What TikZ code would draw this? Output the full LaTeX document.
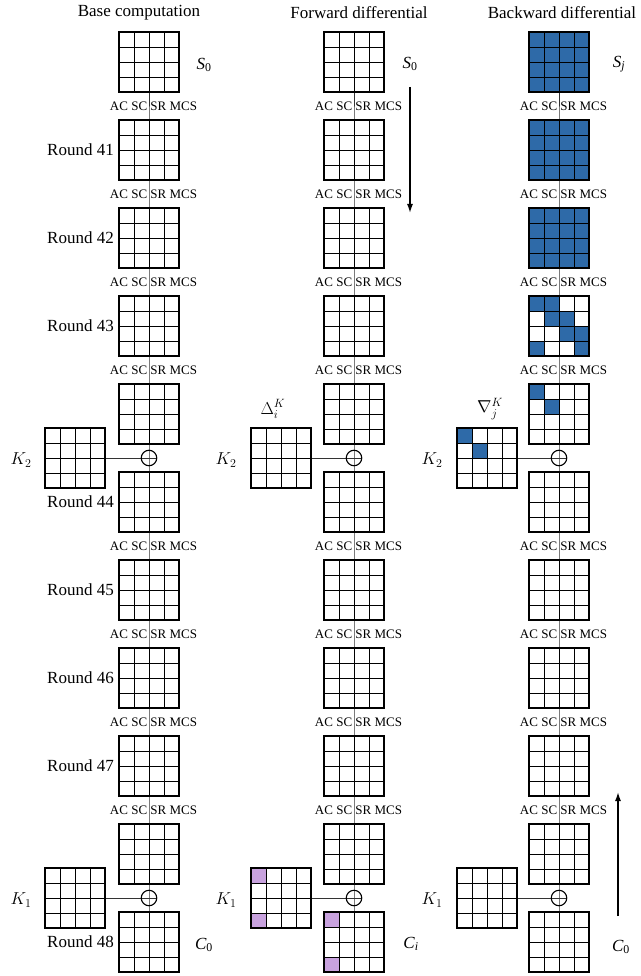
\documentclass[tikz,border=0pt]{standalone}
\usepackage{fontspec}
\setmainfont{Liberation Serif}
\usetikzlibrary{arrows.meta,backgrounds}
\definecolor{bblue}{RGB}{46,106,168}
\definecolor{lpurple}{RGB}{200,162,222}
\tikzset{
 gridbox/.style={minimum size=60pt, inner sep=0pt, outer sep=0pt, fill=white},
 gline/.style={line width=0.9pt, black},
 gborder/.style={line width=1.6pt, black},
 conn/.style={line width=0.9pt, black!80},
 xorop/.style={circle, draw, line width=1.1pt, minimum size=15.5pt, inner sep=0pt},
 oplabel/.style={font=\fontsize{13}{13}\selectfont, inner sep=0pt},
 rlabel/.style={font=\fontsize{17}{17}\selectfont, inner sep=0pt, anchor=east},
 ttl/.style={font=\fontsize{17}{17}\selectfont, inner sep=0pt},
 mlabel/.style={font=\fontsize{17}{17}\selectfont, inner sep=0pt},
 flow/.style={line width=1.5pt, -{Latex[length=9pt,width=6pt]}},
}
\newcommand\glines[1]{%
 \foreach \k in {1,2,3}{%
  \draw[gline] ([xshift=\k*15pt]#1.north west) -- ([xshift=\k*15pt]#1.south west);
  \draw[gline] ([yshift=-\k*15pt]#1.north west) -- ([yshift=-\k*15pt]#1.north east);
 }%
 \draw[gborder] (#1.north west) rectangle (#1.south east);%
}
\newcommand\gcells[3]{%
 \foreach \c/\r in {#3}{\fill[#2] ([xshift=\c*15pt,yshift=-\r*15pt]#1.north west) rectangle ++(15pt,-15pt);}%
}
\begin{document}
\begin{tikzpicture}[x=1pt,y=-1pt]
\useasboundingbox (0,0) rectangle (640,976);
\foreach \i/\cx/\kx in {1/149/75,2/354/281,3/559/487}{
  \foreach \n/\gy in {1/62,2/150,3/238,4/326,5/414,6/502,7/590,8/678,9/766,10/854,11/942}{
    \node[gridbox] (g\i-\n) at (\cx,\gy) {};
  }
  \node[gridbox] (k\i-2) at (\kx,458) {};
  \node[gridbox] (k\i-1) at (\kx,898) {};
  \node[xorop] (x\i-2) at (\cx,458) {};
  \node[xorop] (x\i-1) at (\cx,898) {};
  \foreach \ly in {106,194,282,370,546,634,722,810}{
    \node[oplabel] (op\i-\ly) at (\cx+4.5,\ly) {AC SC SR MCS};
  }
}
% fills
\foreach \n in {1,2,3}{\fill[bblue] (g3-\n.north west) rectangle (g3-\n.south east);}
\gcells{g3-4}{bblue}{0/0,1/0,1/1,2/1,2/2,3/2,0/3,3/3}
\gcells{g3-5}{bblue}{0/0,1/1}
\gcells{k3-2}{bblue}{0/0,1/1}
\gcells{k2-1}{lpurple}{0/0,0/3}
\gcells{g2-11}{lpurple}{0/0,0/3}
% grid lines
\foreach \i in {1,2,3}{
  \foreach \n in {1,...,11}{\glines{g\i-\n}}
  \glines{k\i-1}
  \glines{k\i-2}
}
% connectors
\begin{scope}[on background layer]
\foreach \i in {1,2,3}{
 \draw[conn] (g\i-1.center) -- (g\i-2.center) -- (g\i-3.center) -- (g\i-4.center) -- (g\i-5.center) -- (x\i-2.center) -- (g\i-6.center) -- (g\i-7.center) -- (g\i-8.center) -- (g\i-9.center) -- (g\i-10.center) -- (x\i-1.center) -- (g\i-11.center);
 \draw[conn] (k\i-2.center) -- (x\i-2.east);
 \draw[conn] (k\i-1.center) -- (x\i-1.east);
}
\end{scope}
% titles
\node[ttl] (t1) at (139,13) {Base computation};
\node[ttl] (t2) at (359,13) {Forward differential};
\node[ttl] (t3) at (562,13) {Backward differential};
% round labels
\foreach \r/\ry in {41/150,42/238,43/326,44/502,45/590,46/678,47/766,48/942}{
  \node[rlabel] (r\r) at (114,\ry) {Round \r};
}
% state labels
\node[mlabel] (s1) at (204,65) {{\itshape S}\textsubscript{0}};
\node[mlabel] (s2) at (410,64) {{\itshape S}\textsubscript{0}};
\node[mlabel] (s3) at (619,64) {{\itshape S}\textsubscript{\itshape j}};
\node[mlabel] (c1) at (204,945) {{\itshape C}\textsubscript{0}};
\node[mlabel] (c2) at (411,944) {{\itshape C}\textsubscript{\itshape i}};
\node[mlabel] (c3) at (621,947) {{\itshape C}\textsubscript{0}};
\node[mlabel] (dk) at (273,409) {$\Delta_i^K$};
\node[mlabel] (nk) at (490,409) {$\nabla_j^K$};
\foreach \i/\lx in {1/21,2/226,3/432}{
  \node[mlabel] (kl\i-2) at (\lx,460) {$K_2$};
  \node[mlabel] (kl\i-1) at (\lx,900) {$K_1$};
}
% arrows
\coordinate (fa-s) at (410,87);
\coordinate (fa-e) at (410,213);
\draw[flow] (fa-s) -- (fa-e);
\coordinate (ba-s) at (618,916);
\coordinate (ba-e) at (618,792);
\draw[flow] (ba-s) -- (ba-e);
\end{tikzpicture}
\end{document}
